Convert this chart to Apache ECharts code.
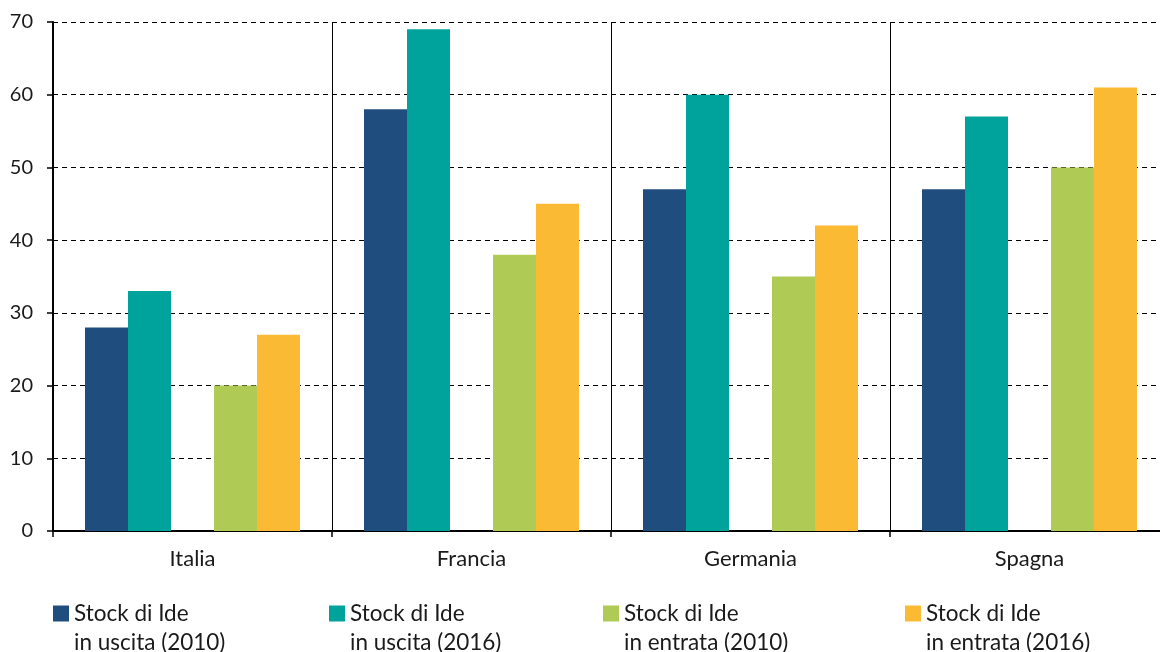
<!DOCTYPE html>
<html lang="it">
<head>
    <meta charset="UTF-8">
    <title>Stock di Ide</title>
    <style>
        html, body { margin: 0; padding: 0; background: #fff; }
        #main { width: 1160px; height: 652px; }
    </style>
</head>
<body>
<div id="main"></div>
<script src="https://cdn.jsdelivr.net/npm/echarts@6/dist/echarts.min.js"></script>
<script>
    // categorie e valori
    var paesi = ['Italia', 'Francia', 'Germania', 'Spagna'];
    var uscita2010 = [28, 58, 47, 47];
    var uscita2016 = [33, 69, 60, 57];
    var entrata2010 = [20, 38, 35, 50];
    var entrata2016 = [27, 45, 42, 61];
    var vuoto = [null, null, null, null];   // spazio tra uscita ed entrata
    var nomi = ['Stock di Ide\nin uscita (2010)', 'Stock di Ide\nin uscita (2016)',
                'Stock di Ide\nin entrata (2010)', 'Stock di Ide\nin entrata (2016)'];
    var colori = ['#1f4e7e', '#00a39b', '#afcb55', '#fbba34'];
    var yTicks = [0, 10, 20, 30, 40, 50, 60, 70];

    var font = 'Lato, "Open Sans", sans-serif';
    var myChart = echarts.init(document.getElementById('main'));

    function barra(nome, dati, colore) {
        return {
            name: nome,
            type: 'bar',
            data: dati,
            barWidth: 43,
            barGap: '0%',
            itemStyle: { color: colore },
            emphasis: { disabled: true }
        };
    }

    // una legenda per voce, così le posizioni sono libere
    function legenda(nome, x) {
        return {
            data: [nome],
            left: x,
            top: 570,
            padding: 0,
            itemWidth: 16,
            itemHeight: 16,
            icon: 'rect',
            // riga vuota davanti: il quadratino si allinea alla prima riga
            formatter: function (n) { return '\n' + n; },
            textStyle: {
                fontFamily: font,
                fontSize: 22.5,
                color: '#1a1a1a',
                lineHeight: 29
            },
            selectedMode: false
        };
    }

    var option = {
        animation: false,
        grid: { left: 53, top: 22, width: 1116, height: 509, outerBoundsMode: 'none' },
        legend: [
            legenda(nomi[0], 53),
            legenda(nomi[1], 329),
            legenda(nomi[2], 603),
            legenda(nomi[3], 905)
        ],
        xAxis: {
            type: 'category',
            data: paesi,
            axisLine: { lineStyle: { color: '#000', width: 2 } },
            axisTick: { show: true, length: 6, lineStyle: { color: '#000', width: 1.5 } },
            axisLabel: { fontFamily: font, fontSize: 22, color: '#1a1a1a', margin: 17 },
            splitLine: { show: true, lineStyle: { color: '#000', width: 1 } }
        },
        yAxis: {
            type: 'value',
            min: yTicks[0],
            max: yTicks[yTicks.length - 1],
            interval: 10,
            axisLine: { show: true, lineStyle: { color: '#000', width: 2 } },
            axisTick: { show: true, length: 6, lineStyle: { color: '#000', width: 1.5 } },
            axisLabel: { fontFamily: font, fontSize: 20, color: '#1a1a1a', margin: 20 },
            splitLine: { show: true, lineStyle: { color: '#000', width: 1, type: [5, 4] } }
        },
        series: [
            barra(nomi[0], uscita2010, colori[0]),
            barra(nomi[1], uscita2016, colori[1]),
            barra('', vuoto, '#fff'),
            barra(nomi[2], entrata2010, colori[2]),
            barra(nomi[3], entrata2016, colori[3])
        ]
    };
    myChart.setOption(option);
</script>
</body>
</html>
